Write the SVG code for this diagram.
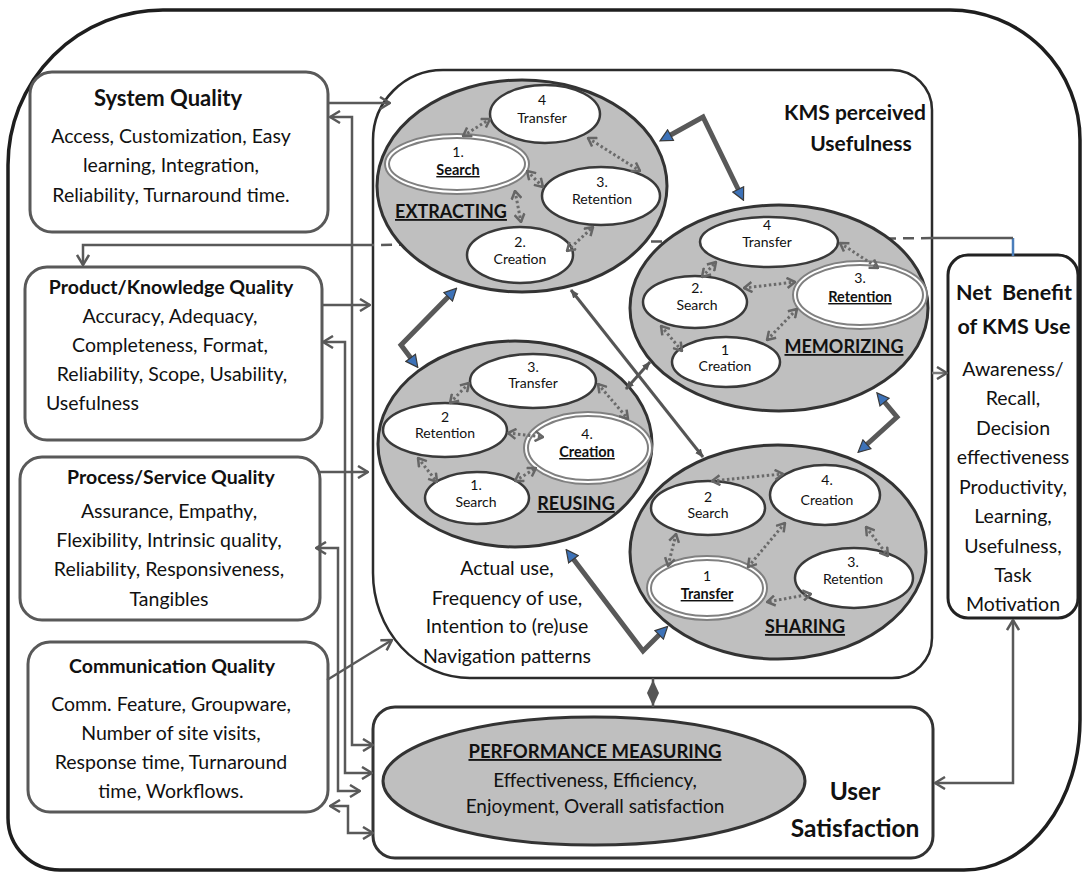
<svg xmlns="http://www.w3.org/2000/svg" width="1085" height="873" viewBox="0 0 1085 873">
<style>
  text { font-family: Lato, "Open Sans", "DejaVu Sans", sans-serif; fill: #111; }
  .c { text-anchor: middle; }
  .b { font-weight: bold; }
  .u { text-decoration: underline; }
  .box { fill: #fff; stroke: #595959; stroke-width: 3; }
  .frame { fill: #fff; stroke: #1e1e1e; stroke-width: 3.5; }
  .big { fill: #bfbfbf; stroke: #333; stroke-width: 3; }
  .in { fill: #fff; stroke: #3a3a3a; stroke-width: 2.5; }
  .ring { fill: #fff; stroke: #808080; stroke-width: 6; }
  .ring-gap { fill: none; stroke: #fff; stroke-width: 2; }
  .conn { fill: none; stroke: #595959; stroke-width: 2.5; }
  .dash { fill: none; stroke: #595959; stroke-width: 2.5; stroke-dasharray: 11 7; }
  .dot { fill: none; stroke: #6b6b6b; stroke-width: 3; stroke-dasharray: 2.5 2.5; marker-start: url(#dh); marker-end: url(#dh); }
  .thick { fill: none; stroke: #595959; stroke-width: 5; stroke-linejoin: miter; marker-start: url(#blue); marker-end: url(#blue); }
  .thin { fill: none; stroke: #555; stroke-width: 3; marker-start: url(#sm); marker-end: url(#sm); }
  .t13 { font-size: 14px; }
  .t13b { font-size: 14.5px; font-weight: bold; text-decoration: underline; }
  .lbl { font-size: 18px; font-weight: bold; text-decoration: underline; }
  .body { font-size: 19.5px; }
  .head { font-size: 19.5px; font-weight: bold; }
</style>
<defs>
  <marker id="open" viewBox="0 0 12 14" refX="11" refY="7" markerWidth="12" markerHeight="14" markerUnits="userSpaceOnUse" orient="auto-start-reverse">
    <path d="M1,1 L11,7 L1,13" fill="none" stroke="#595959" stroke-width="2.5"/>
  </marker>
  <marker id="dh" viewBox="0 0 10 12" refX="9" refY="6" markerWidth="10" markerHeight="12" markerUnits="userSpaceOnUse" orient="auto-start-reverse">
    <path d="M1,1 L9,6 L1,11" fill="none" stroke="#666" stroke-width="2.5"/>
  </marker>
  <marker id="blue" viewBox="0 0 14 14" refX="5" refY="7" markerWidth="14" markerHeight="14" markerUnits="userSpaceOnUse" orient="auto-start-reverse">
    <path d="M1,1 L13,7 L1,13 Z" fill="#3d72b8" stroke="#3a3a3a" stroke-width="1.2"/>
  </marker>
  <marker id="sm" viewBox="0 0 10 10" refX="9" refY="5" markerWidth="9" markerHeight="9" markerUnits="userSpaceOnUse" orient="auto-start-reverse">
    <path d="M0,1 L10,5 L0,9 Z" fill="#555"/>
  </marker>
</defs>

<rect width="1085" height="873" fill="#fff"/>

<!-- outer frame -->
<path id="frame" class="frame" d="M163,10 H950 A130,130 0 0 1 1080,140 V720 A116,150 0 0 1 964,870 H60 A52,52 0 0 1 8,818 V165 A155,155 0 0 1 163,10 Z"/>

<!-- KMS perceived usefulness container -->
<g id="kms-usefulness">
  <path fill="#fff" stroke="#2b2b2b" stroke-width="2.5" d="M443,70 H892 A40,40 0 0 1 932,110 V638 A40,40 0 0 1 892,678 H470 A97,105 0 0 1 373,573 V140 A70,70 0 0 1 443,70 Z"/>
  <text class="c b" x="855" y="120" font-size="21">KMS perceived</text>
  <text class="c b" x="861" y="151" font-size="21">Usefulness</text>
  <text class="c" font-size="19.5" x="507" y="575">Actual use,</text>
  <text class="c" font-size="19.5" x="507" y="605">Frequency of use,</text>
  <text class="c" font-size="19.5" x="507" y="633">Intention to (re)use</text>
  <text class="c" font-size="19.5" x="507" y="663">Navigation patterns</text>
</g>

<!-- user satisfaction -->
<g id="user-satisfaction">
  <rect x="373" y="707" width="560" height="151" rx="22" fill="#fff" stroke="#333" stroke-width="3"/>
  <ellipse cx="594" cy="781" rx="211" ry="64" class="big"/>
  <text class="c b u" x="595" y="758" font-size="18.5">PERFORMANCE MEASURING</text>
  <text class="c" x="595" y="787" font-size="19">Effectiveness, Efficiency,</text>
  <text class="c" x="595" y="813" font-size="19">Enjoyment, Overall satisfaction</text>
  <text class="c b" x="855" y="800" font-size="24.5">User</text>
  <text class="c b" x="855" y="837" font-size="24.5">Satisfaction</text>
</g>

<!-- quality dimensions -->
<g id="system-quality">
  <rect class="box" x="30" y="72" width="298" height="160" rx="22"/>
  <text class="c b" x="168" y="106" font-size="22">System Quality</text>
  <text class="c body" x="171" y="143">Access, Customization, Easy</text>
  <text class="c body" x="171" y="172">learning, Integration,</text>
  <text class="c body" x="171" y="202">Reliability, Turnaround time.</text>
</g>
<g id="product-quality">
  <rect class="box" x="25" y="267" width="297" height="173" rx="22"/>
  <text class="c head" x="171" y="294">Product/Knowledge Quality</text>
  <text class="c body" x="170" y="323">Accuracy, Adequacy,</text>
  <text class="c body" x="170" y="352">Completeness, Format,</text>
  <text class="c body" x="172" y="381">Reliability, Scope, Usability,</text>
  <text class="body" x="46" y="410">Usefulness</text>
</g>
<g id="process-quality">
  <rect class="box" x="20" y="457" width="300" height="163" rx="22"/>
  <text class="c head" x="171" y="484">Process/Service Quality</text>
  <text class="c body" x="169" y="518">Assurance, Empathy,</text>
  <text class="c body" x="169" y="547">Flexibility, Intrinsic quality,</text>
  <text class="c body" x="169" y="576">Reliability, Responsiveness,</text>
  <text class="c body" x="169" y="606">Tangibles</text>
</g>
<g id="communication-quality">
  <rect class="box" x="28" y="642" width="300" height="170" rx="22"/>
  <text class="c head" x="172" y="673">Communication Quality</text>
  <text class="c body" x="171" y="711">Comm. Feature, Groupware,</text>
  <text class="c body" x="171" y="740">Number of site visits,</text>
  <text class="c body" x="171" y="769">Response time, Turnaround</text>
  <text class="c body" x="171" y="798">time, Workflows.</text>
</g>

<!-- net benefit -->
<g id="net-benefit">
  <rect x="948" y="255" width="130" height="363" rx="20" fill="#fff" stroke="#222" stroke-width="3"/>
  <text class="c b" x="1014" y="300" font-size="21.5" xml:space="preserve">Net  Benefit</text>
  <text class="c b" x="1014" y="334" font-size="21.5">of KMS Use</text>
  <text class="c" font-size="19.5" x="1013" y="376">Awareness/</text>
  <text class="c" font-size="19.5" x="1013" y="405">Recall,</text>
  <text class="c" font-size="19.5" x="1013" y="435">Decision</text>
  <text class="c" font-size="19.5" x="1013" y="464">effectiveness</text>
  <text class="c" font-size="19.5" x="1013" y="494">Productivity,</text>
  <text class="c" font-size="19.5" x="1013" y="523">Learning,</text>
  <text class="c" font-size="19.5" x="1013" y="553">Usefulness,</text>
  <text class="c" font-size="19.5" x="1013" y="582">Task</text>
  <text class="c" font-size="19.5" x="1013" y="611">Motivation</text>
</g>

<!-- connectors between the dimension boxes -->
<g id="connectors">
  <!-- net benefit feedback line into product quality -->
  <path d="M1013,256 V238" fill="none" stroke="#4a7ebb" stroke-width="2.5"/>
  <path class="conn" d="M1013,238 H932"/>
  <path class="dash" d="M932,238 L373,245"/>
  <path class="conn" d="M373,245 H83 V265" marker-end="url(#open)"/>

  <path class="conn" d="M328,103 H390" marker-end="url(#open)"/>
  <path class="conn" d="M373,745 H352 V117 H330" marker-start="url(#open)" marker-end="url(#open)"/>
  <path class="conn" d="M322,305 H370" marker-end="url(#open)"/>
  <path class="conn" d="M372,773 H345 V342 H323" marker-start="url(#open)" marker-end="url(#open)"/>
  <path class="conn" d="M320,472 H368" marker-end="url(#open)"/>
  <path class="conn" d="M360,791 H338 V548 H316" marker-start="url(#open)" marker-end="url(#open)"/>
  <path class="conn" d="M327,680 L392,640" marker-end="url(#open)"/>
  <path class="conn" d="M330,806 H348 V833 H373" marker-start="url(#open)" marker-end="url(#open)"/>
  <path d="M932,373 H947" fill="none" stroke="#7a7a7a" stroke-width="2.5" marker-end="url(#open)"/>
  <path class="conn" d="M935,783 H1013 V620" marker-start="url(#open)" marker-end="url(#open)"/>
  <!-- usefulness / satisfaction link -->
  <path d="M653,678 V707" stroke="#555" stroke-width="2.5"/>
  <polygon points="653,680 659,693 653,706 647,693" fill="#555"/>
</g>

<!-- knowledge cycle: extracting -->
<g id="extracting">
  <ellipse class="big" cx="522" cy="186" rx="145" ry="106"/>
  <ellipse class="in" cx="545" cy="114" rx="55" ry="29"/>
  <text class="c t13" x="542" y="105">4</text>
  <text class="c t13" x="542" y="123">Transfer</text>
  <ellipse class="ring" cx="457" cy="164" rx="70" ry="28"/>
  <ellipse class="ring-gap" cx="457" cy="164" rx="70" ry="28"/>
  <text class="c t13" x="458" y="157">1.</text>
  <text class="c t13b" x="458" y="175">Search</text>
  <ellipse class="in" cx="601" cy="196" rx="59" ry="29"/>
  <text class="c t13" x="602" y="187">3.</text>
  <text class="c t13" x="602" y="204">Retention</text>
  <ellipse class="in" cx="520" cy="255" rx="53" ry="28"/>
  <text class="c t13" x="520" y="247">2.</text>
  <text class="c t13" x="520" y="264">Creation</text>
  <text class="c lbl" x="451" y="218">EXTRACTING</text>
  <line class="dot" x1="463" y1="136" x2="490" y2="119"/>
  <line class="dot" x1="588" y1="138" x2="640" y2="171"/>
  <line class="dot" x1="527" y1="171" x2="543" y2="187"/>
  <line class="dot" x1="515" y1="191" x2="521" y2="222"/>
  <line class="dot" x1="567" y1="251" x2="593" y2="227"/>
</g>

<!-- knowledge cycle: memorizing -->
<g id="memorizing">
  <ellipse class="big" cx="779" cy="308" rx="149" ry="103"/>
  <ellipse class="in" cx="769" cy="242" rx="69" ry="25"/>
  <text class="c t13" x="767" y="230">4</text>
  <text class="c t13" x="767" y="247">Transfer</text>
  <ellipse class="in" cx="695" cy="302" rx="52" ry="26"/>
  <text class="c t13" x="697" y="293">2.</text>
  <text class="c t13" x="697" y="310">Search</text>
  <ellipse class="ring" cx="860" cy="295" rx="65" ry="32"/>
  <ellipse class="ring-gap" cx="860" cy="295" rx="65" ry="32"/>
  <text class="c t13" x="860" y="283">3.</text>
  <text class="c t13b" x="860" y="302">Retention</text>
  <ellipse class="in" cx="726" cy="362" rx="54" ry="25"/>
  <text class="c t13" x="725" y="355">1</text>
  <text class="c t13" x="725" y="371">Creation</text>
  <text class="c lbl" x="844" y="353">MEMORIZING</text>
  <line class="dot" x1="840" y1="243" x2="878" y2="268"/>
  <line class="dot" x1="702" y1="277" x2="716" y2="262"/>
  <line class="dot" x1="744" y1="288" x2="795" y2="282"/>
  <line class="dot" x1="661" y1="326" x2="682" y2="351"/>
  <line class="dot" x1="767" y1="340" x2="797" y2="309"/>
</g>

<!-- knowledge cycle: reusing -->
<g id="reusing">
  <ellipse class="big" cx="515" cy="444" rx="137" ry="103"/>
  <ellipse class="in" cx="533" cy="381" rx="63" ry="27"/>
  <text class="c t13" x="533" y="372">3.</text>
  <text class="c t13" x="533" y="388">Transfer</text>
  <ellipse class="in" cx="445" cy="430" rx="62" ry="27"/>
  <text class="c t13" x="445" y="422">2</text>
  <text class="c t13" x="445" y="438">Retention</text>
  <ellipse class="ring" cx="588" cy="448" rx="62" ry="34"/>
  <ellipse class="ring-gap" cx="588" cy="448" rx="62" ry="34"/>
  <text class="c t13" x="587" y="439">4.</text>
  <text class="c t13b" x="587" y="457">Creation</text>
  <ellipse class="in" cx="477" cy="498" rx="52" ry="26"/>
  <text class="c t13" x="476" y="490">1.</text>
  <text class="c t13" x="476" y="507">Search</text>
  <text class="c lbl" x="576" y="510">REUSING</text>
  <line class="dot" x1="450" y1="403" x2="469" y2="383"/>
  <line class="dot" x1="598" y1="384" x2="628" y2="419"/>
  <line class="dot" x1="508" y1="433" x2="543" y2="437"/>
  <line class="dot" x1="418" y1="458" x2="437" y2="482"/>
  <line class="dot" x1="515" y1="481" x2="536" y2="468"/>
</g>

<!-- knowledge cycle: sharing -->
<g id="sharing">
  <ellipse class="big" cx="778" cy="552" rx="148" ry="107"/>
  <ellipse class="in" cx="708" cy="508" rx="57" ry="27"/>
  <text class="c t13" x="708" y="502">2</text>
  <text class="c t13" x="708" y="518">Search</text>
  <ellipse class="in" cx="825" cy="495" rx="55" ry="30"/>
  <text class="c t13" x="827" y="485">4.</text>
  <text class="c t13" x="827" y="505">Creation</text>
  <ellipse class="in" cx="854" cy="578" rx="59" ry="30"/>
  <text class="c t13" x="853" y="567">3.</text>
  <text class="c t13" x="853" y="584">Retention</text>
  <ellipse class="ring" cx="707" cy="588" rx="58" ry="30"/>
  <ellipse class="ring-gap" cx="707" cy="588" rx="58" ry="30"/>
  <text class="c t13" x="707" y="581">1</text>
  <text class="c t13b" x="707" y="599">Transfer</text>
  <text class="c lbl" x="805" y="633">SHARING</text>
  <line class="dot" x1="712" y1="481" x2="783" y2="474"/>
  <line class="dot" x1="676" y1="534" x2="668" y2="566"/>
  <line class="dot" x1="785" y1="523" x2="748" y2="567"/>
  <line class="dot" x1="866" y1="527" x2="888" y2="556"/>
  <line class="dot" x1="811" y1="594" x2="767" y2="602"/>
</g>

<!-- links between the cycle stages -->
<g id="cycle-links">
  <path class="thick" d="M667,137 L703,117 L740,193"/>
  <path class="thick" d="M451,294 L401,345 L413,361"/>
  <path class="thick" d="M882,399 L897,417 L864,447"/>
  <path class="thick" d="M571,556 L643,651 L662,632"/>
  <line class="thin" x1="571" y1="290" x2="703" y2="457"/>
  <line class="thin" x1="626" y1="389" x2="650" y2="362"/>
</g>
</svg>
